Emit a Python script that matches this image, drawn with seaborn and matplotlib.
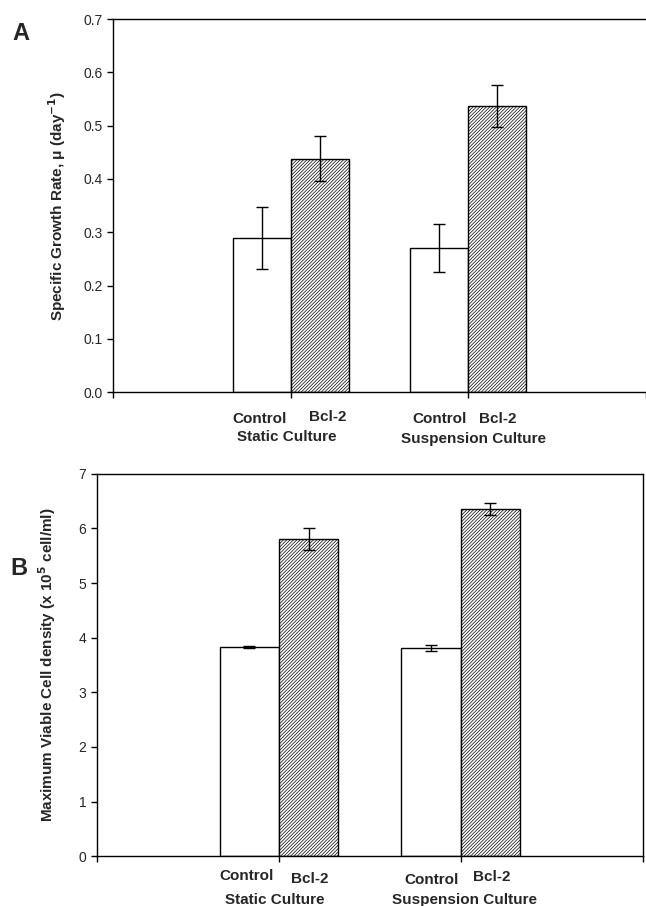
import numpy as np
import pandas as pd
import matplotlib
matplotlib.use("Agg")
import matplotlib.pyplot as plt
import seaborn as sns

# ---- data ----
cultures = ["Static Culture", "Suspension Culture"]
conditions = ["Control", "Bcl-2"]

growth_control = [0.29, 0.27]
growth_bcl2 = [0.438, 0.537]
growth_control_err = [0.058, 0.045]
growth_bcl2_err = [0.042, 0.040]

density_control = [3.83, 3.81]
density_bcl2 = [5.81, 6.35]
density_control_err = [0.02, 0.06]
density_bcl2_err = [0.20, 0.11]

sns.set_style("ticks")
plt.rcParams["font.family"] = ["Liberation Sans", "DejaVu Sans"]
plt.rcParams["hatch.linewidth"] = 0.5
plt.rcParams["hatch.color"] = "black"

# Empty slots on either side keep the two groups centred on ticks 1 and 2
order = ["pad_left"] + cultures + ["pad_right"]


def build_frame(ctrl, bcl, ctrl_err, bcl_err):
    rows = []
    for i, c in enumerate(cultures):
        rows.append({"culture": c, "condition": "Control", "value": ctrl[i], "err": ctrl_err[i]})
        rows.append({"culture": c, "condition": "Bcl-2", "value": bcl[i], "err": bcl_err[i]})
    return pd.DataFrame(rows)


def draw_panel(ax, df, ymax, yticks, ylabel, tick_fmt):
    sns.barplot(data=df, x="culture", y="value", hue="condition",
                order=order, hue_order=conditions, width=0.652,
                palette=["white", "white"], edgecolor="black", linewidth=1.0,
                errorbar=None, legend=False, ax=ax)
    for cont, cond in zip(ax.containers, conditions):
        sub = df[df["condition"] == cond]
        for bar in cont:
            h = bar.get_height()
            if np.isnan(h) or h == 0:
                continue
            if cond == "Bcl-2":
                bar.set_hatch("/" * 10)
            row = sub.iloc[(sub["value"] - h).abs().argmin()]
            xc = bar.get_x() + bar.get_width() / 2
            ax.errorbar(xc, row["value"], yerr=row["err"], fmt="none",
                        ecolor="black", elinewidth=1.0, capsize=4.5,
                        capthick=1.0, zorder=5)
    ax.set_xlim(0, 3)
    ax.set_ylim(0, ymax)
    ax.set_yticks(yticks)
    ax.set_yticklabels([tick_fmt.format(t) for t in yticks], fontsize=10)
    ax.set_xticks([0, 1, 2, 3])
    ax.set_xticklabels([])
    ax.set_xlabel("")
    ax.set_ylabel(ylabel, fontsize=11, fontweight="bold")
    ax.tick_params(axis="both", direction="out", length=4, width=1, color="black")
    for s in ax.spines.values():
        s.set_color("black")
        s.set_linewidth(1.0)


fig = plt.figure(figsize=(6.46, 9.06), dpi=100)

# ---- panel A ----
axA = fig.add_axes([0.175, 0.567, 0.825, 0.412])
dfA = build_frame(growth_control, growth_bcl2, growth_control_err, growth_bcl2_err)
draw_panel(axA, dfA, 0.7, np.round(np.arange(0, 0.71, 0.1), 1),
           r"Specific Growth Rate, $\mathregular{\mu}$ (day$^{\mathbf{-1}}$)", "{:.1f}")
axA.spines["right"].set_visible(False)
axA.yaxis.set_label_coords(-0.084, 0.5)

# category labels under panel A
trA = axA.get_xaxis_transform()
lab = dict(ha="center", va="center", fontsize=11, fontweight="bold", transform=trA)
axA.text(0.826, -0.072, "Control", **lab)
axA.text(1.21, -0.067, "Bcl-2", **lab)
axA.text(0.98, -0.12, "Static Culture", **lab)
axA.text(1.84, -0.072, "Control", **lab)
axA.text(2.165, -0.072, "Bcl-2", **lab)
axA.text(2.03, -0.125, "Suspension Culture", **lab)

fig.text(0.033, 0.963, "A", fontsize=17, fontweight="heavy", ha="center", va="center")

# ---- panel B ----
axB = fig.add_axes([0.150, 0.055, 0.845, 0.422])
dfB = build_frame(density_control, density_bcl2, density_control_err, density_bcl2_err)
draw_panel(axB, dfB, 7, np.arange(0, 8, 1),
           r"Maximum Viable Cell density (x 10$^{\mathbf{5}}$ cell/ml)", "{:d}")
axB.yaxis.set_label_coords(-0.072, 0.5)

trB = axB.get_xaxis_transform()
labB = dict(ha="center", va="center", fontsize=11, fontweight="bold", transform=trB)
axB.text(0.82, -0.052, "Control", **labB)
axB.text(1.17, -0.059, "Bcl-2", **labB)
axB.text(0.98, -0.114, "Static Culture", **labB)
axB.text(1.84, -0.062, "Control", **labB)
axB.text(2.17, -0.055, "Bcl-2", **labB)
axB.text(2.02, -0.114, "Suspension Culture", **labB)

fig.text(0.03, 0.372, "B", fontsize=17, fontweight="heavy", ha="center", va="center")

fig.savefig("out.png", dpi=100)
